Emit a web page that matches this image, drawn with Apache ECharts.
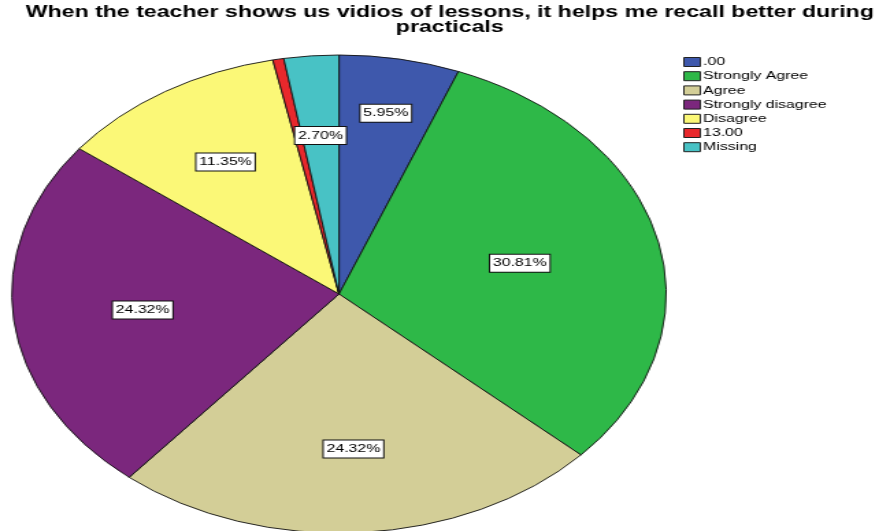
<!DOCTYPE html>
<html>
<head>
<meta charset="utf-8">
<script src="https://cdn.jsdelivr.net/npm/echarts@6/dist/echarts.min.js"></script>
<style>
  html, body { margin: 0; padding: 0; background: #fff; overflow: hidden; }
  /* The chart is laid out on a narrower canvas and stretched horizontally,
     which gives the oval pie and wide lettering of the exported figure. */
  #chart {
    width: 642px;
    height: 531px;
    transform: scaleX(1.36916);
    transform-origin: 0 0;
  }
</style>
</head>
<body>
<div id="chart"></div>
<script>
// Responses to: "When the teacher shows us vidios of lessons, it helps me recall better during practicals"
const categories = ['.00', 'Strongly Agree', 'Agree', 'Strongly disagree', 'Disagree', '13.00', 'Missing'];
const counts = [11, 57, 45, 45, 21, 1, 5];
const colors = ['#3e58ac', '#2eb848', '#d3ce97', '#7b277d', '#fbf877', '#e8282c', '#48c2c5'];
const titleText = 'When the teacher shows us vidios of lessons, it helps me recall better during\npracticals';

// Layout (in the un-stretched canvas)
const CX = 247.6, CY = 294, R = 239;
// Label distance from the centre as a share of the radius; unset slices use the sector centroid.
const labelRadiusOverride = { 0: 0.77, 2: 0.65 };

const total = counts.reduce((a, b) => a + b, 0);
const pct = v => (v / total * 100).toFixed(2) + '%';

const chart = echarts.init(document.getElementById('chart'), null, { renderer: 'canvas' });

chart.setOption({
  animation: false,
  backgroundColor: '#fff',
  title: {
    text: titleText,
    left: 328.5,
    textAlign: 'center',
    top: 5,
    padding: 0,
    textStyle: {
      fontFamily: 'Liberation Sans, Arial, sans-serif',
      fontSize: 16.9,
      fontWeight: 'bold',
      lineHeight: 15,
      color: '#000'
    }
  },
  legend: {
    orient: 'vertical',
    left: 499,
    top: 56,
    padding: 0,
    itemWidth: 12,
    itemHeight: 9,
    itemGap: 2.2,
    icon: 'rect',
    selectedMode: false,
    itemStyle: { borderColor: '#222', borderWidth: 1 },
    textStyle: {
      fontFamily: 'Liberation Sans, Arial, sans-serif',
      fontSize: 11.6,
      lineHeight: 12,
      color: '#000',
      padding: [0, 0, 0, -3]
    },
    data: categories
  },
  series: [{
    type: 'pie',
    center: [CX, CY],
    radius: R,
    startAngle: 90,
    clockwise: true,
    avoidLabelOverlap: false,
    emphasis: { disabled: true },
    itemStyle: { borderColor: '#111', borderWidth: 0.9 },
    label: {
      show: true,
      position: 'inside',
      formatter: p => pct(p.value),
      fontFamily: 'Liberation Sans, Arial, sans-serif',
      fontSize: 11.6,
      color: '#000',
      backgroundColor: '#fff',
      borderColor: '#111',
      borderWidth: 1,
      padding: [3, 2, 2, 2]
    },
    labelLine: { show: false },
    labelLayout: function (params) {
      const i = params.dataIndex;
      const lr = params.labelRect;
      const lx = lr.x + lr.width / 2;
      const ly = lr.y + lr.height / 2;
      const ang = Math.atan2(ly - CY, lx - CX);
      const half = counts[i] / total * Math.PI;
      let f = (2 / 3) * Math.sin(half) / half;
      if (labelRadiusOverride[i] != null) f = labelRadiusOverride[i];
      return {
        x: CX + f * R * Math.cos(ang),
        y: CY + f * R * Math.sin(ang),
        align: 'center',
        verticalAlign: 'middle'
      };
    },
    data: categories.map((name, i) => ({
      name: name,
      value: counts[i],
      itemStyle: { color: colors[i] },
      label: { show: counts[i] / total >= 0.01 }
    }))
  }]
});
</script>
</body>
</html>
